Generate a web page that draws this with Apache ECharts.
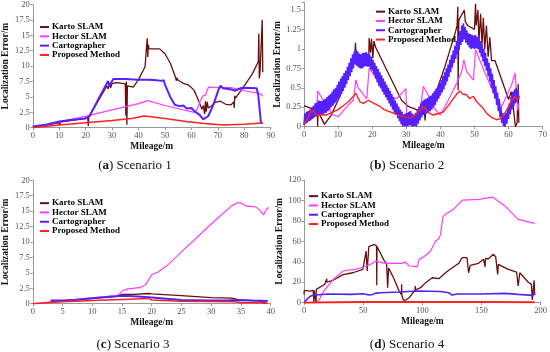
<!DOCTYPE html>
<html>
<head>
<meta charset="utf-8">
<script src="https://cdn.jsdelivr.net/npm/echarts@6/dist/echarts.min.js"></script>
<style>html,body{margin:0;padding:0;background:#fff;}#c{width:550px;height:352px;}</style>
</head>
<body>
<div id="c"></div>
<script>
// ---------- data ----------
const seriesNames = ['Karto SLAM', 'Hector SLAM', 'Cartographer', 'Proposed Method'];
const captions = [['a', ' Scenario 1'], ['b', ' Scenario 2'], ['c', ' Scenario 3'], ['d', ' Scenario 4']];
const xAxisName = 'Mileage/m';
const yAxisName = 'Localization Error/m';

// Scenario 1
const kartoA = [[0,0.1],[5,0.4],[10,0.8],[10.2,0.4],[10.4,0.9],[15,1.2],[20.8,1.6],[21,0.3],[21.2,1.8],[21.5,1.7],[24,3.8],[27,6],[28,6.8],[28.5,6.3],[29,7],[29.5,6.5],[30,7.2],[32,7.3],[35,7.1],[35.2,2],[35.4,7.5],[35.6,0.5],[35.8,6.8],[36,6.5],[38,6.6],[40,7.8],[42,9.5],[42.5,10],[43,13],[43.3,14.5],[43.5,11.5],[43.7,13.5],[44,12.8],[48,12.8],[50,12],[52,10.5],[54,8.2],[54.3,7.6],[54.5,8.1],[55,7.7],[57,7.2],[59,6.9],[61,6.1],[62.5,4.6],[64,3],[64.5,3.6],[65,2.2],[65.3,4.3],[65.6,2.6],[66,4.2],[66.4,3.2],[67.5,3.5],[69,4.1],[71,4.3],[73,3.8],[75,3.7],[76,4.2],[76.2,3.2],[76.4,5.2],[76.7,4.8],[80,6.8],[83,8.7],[85.3,10.7],[85.5,15.3],[85.7,8],[86,9.2],[86.5,9],[86.8,17.5],[87,9]];
const hectorA = [[0,0.05],[10,0.9],[21,1.95],[30,2.9],[40,3.9],[43.5,4.4],[50,3.6],[56,3],[61,2.5],[62,2.8],[63.5,4.5],[64.5,5.2],[65.3,5.3],[66.5,6.6],[70,6.5],[75,6.5],[80,6],[85,5.6],[86.5,5.4],[87,5.1]];
const cartoA = [[0,0.2],[5,0.5],[10,1],[15,1.3],[20,1.5],[21.5,1.9],[25,4.8],[28,7.2],[28.5,7.6],[29,6.7],[29.5,7.2],[30.5,7.9],[35,7.9],[40,7.8],[44,7.8],[47,7.7],[48.5,7.6],[49,7.3],[49.5,7.7],[50,7],[52,5],[53.8,3.7],[55.7,3.5],[57,3.6],[58.2,3.1],[60,3.2],[61.4,2.6],[62,2.9],[63.2,2.05],[64.5,1.35],[65.1,1.2],[66.4,1.9],[68.3,3.7],[70.2,6.1],[71,6.8],[72,6.4],[75.2,6.2],[76.5,6],[78.4,6.4],[79.6,6.5],[84.7,6.4],[85.3,5.3],[86,5],[86.3,0.8],[87,0.7]];
const propA = [[0,0],[10,0.45],[20,0.8],[30,1.15],[38,1.55],[42,1.9],[44,1.8],[50,1.5],[58,1],[65,0.7],[72,0.45],[80,0.55],[87,0.75]];

// Scenario 2
const kartoB = [[0,0.27],[3,0.22],[3.9,0.22],[4,0],[4.1,0.2],[6,0.03],[8,0.15],[10,0.34],[12,0.55],[14.8,0.85],[15.1,1.08],[15.3,0.85],[17,0.87],[19,0.88],[19.1,1.14],[19.5,0.95],[19.8,1.13],[20.2,0.88],[20.5,1.1],[21,1.02],[24.7,0.69],[28.6,0.34],[30.6,0.26],[33.5,0.21],[35.3,0.2],[35.5,0.08],[35.7,0.2],[38,0.35],[41.3,0.77],[44.3,1.2],[44.9,1.3],[45.1,1.54],[45.2,0.47],[45.4,1.37],[47,1.5],[47.3,1.35],[48,1.3],[50,1.25],[50.3,1.58],[50.5,1.3],[51,1.5],[51.3,1.1],[51.8,1.45],[52.2,1.05],[52.6,1.4],[53,1.0],[53.5,1.3],[54,0.9],[54.5,1.15],[55,0.85],[56,0.85],[58,0.6],[60,0.35],[60.8,0.45],[61.5,0.2],[62,0],[62.5,0.05],[62.8,0.55],[63,0.05]];
const hectorB = [[0,0.05],[1.5,0.15],[3,0.2],[3.7,0.15],[4,0.46],[5.5,0.35],[7.6,0.21],[8.5,0.15],[10.1,0.13],[13,0.28],[14.5,0.34],[15.2,0.6],[15.9,0.5],[18.4,0.36],[19.1,0.75],[20,0.7],[22.3,0.54],[24.7,0.39],[27.2,0.36],[29.9,0.49],[30.1,0.13],[32.1,0.15],[34,0.18],[35,0.52],[36.5,0.4],[38,0.25],[40,0.15],[42.3,0.34],[44.8,0.56],[46.2,0.7],[46.9,0.86],[47.7,0.71],[49.7,0.6],[50.1,0.6],[50.3,0.99],[53.1,0.69],[56,0.39],[58,0.26],[60.9,0.54],[61.9,0.69],[62.7,0.21],[63,0.3]];
const cartoB = [
[0,0.02],[0.25,0.17],[0.5,0.04],[0.75,0.19],
[1,0.05],[1.25,0.2],[1.5,0.07],[1.75,0.22],
[2,0.08],[2.25,0.25],[2.5,0.1],[2.75,0.27],
[3,0.12],[3.25,0.3],[3.5,0.13],[3.75,0.31],
[4,0.15],[4.25,0.34],[4.5,0.16],[4.75,0.33],
[5,0.16],[5.25,0.33],[5.5,0.15],[5.75,0.35],
[6,0.17],[6.25,0.36],[6.5,0.18],[6.75,0.38],
[7,0.2],[7.25,0.4],[7.5,0.22],[7.75,0.42],
[8,0.25],[8.25,0.45],[8.5,0.27],[8.75,0.48],
[9,0.3],[9.25,0.5],[9.5,0.32],[9.75,0.54],
[10,0.35],[10.25,0.58],[10.5,0.38],[10.75,0.62],
[11,0.42],[11.25,0.65],[11.5,0.46],[11.75,0.69],
[12,0.5],[12.25,0.72],[12.5,0.55],[12.75,0.77],
[13,0.6],[13.25,0.82],[13.5,0.65],[13.75,0.88],
[14,0.7],[14.25,0.93],[14.5,0.75],[14.75,0.97],
[15,0.8],[15.25,0.99],[15.5,0.78],[15.75,0.97],
[16,0.76],[16.25,0.94],[16.5,0.75],[16.75,0.93],
[17,0.75],[17.25,0.95],[17.5,0.76],[17.75,0.95],
[18,0.78],[18.25,0.96],[18.5,0.77],[18.75,0.94],
[19,0.77],[19.25,0.93],[19.5,0.74],[19.75,0.9],
[20,0.72],[20.25,0.86],[20.5,0.67],[20.75,0.82],
[21,0.62],[21.25,0.78],[21.5,0.57],[21.75,0.74],
[22,0.52],[22.25,0.7],[22.5,0.49],[22.75,0.66],
[23,0.45],[23.25,0.62],[23.5,0.41],[23.75,0.58],
[24,0.38],[24.25,0.54],[24.5,0.34],[24.75,0.5],
[25,0.3],[25.25,0.46],[25.5,0.26],[25.75,0.42],
[26,0.22],[26.25,0.38],[26.5,0.18],[26.75,0.34],
[27,0.15],[27.25,0.3],[27.5,0.11],[27.75,0.26],
[28,0.07],[28.25,0.22],[28.5,0.03],[28.75,0.19],
[29,0],[29.25,0.16],[29.5,0.01],[29.75,0.17],
[30,0],[30.25,0.18],[30.5,0.01],[30.75,0.19],
[31,0.02],[31.25,0.2],[31.5,0.01],[31.75,0.17],
[32,0],[32.25,0.14],[32.5,0.01],[32.75,0.18],
[33,0],[33.25,0.22],[33.5,0.04],[33.75,0.26],
[34,0.08],[34.25,0.3],[34.5,0.12],[34.75,0.33],
[35,0.15],[35.25,0.35],[35.5,0.16],[35.75,0.36],
[36,0.17],[36.25,0.37],[36.5,0.18],[36.75,0.39],
[37,0.2],[37.25,0.4],[37.5,0.22],[37.75,0.43],
[38,0.25],[38.25,0.46],[38.5,0.28],[38.75,0.49],
[39,0.32],[39.25,0.52],[39.5,0.36],[39.75,0.56],
[40,0.4],[40.25,0.6],[40.5,0.44],[40.75,0.65],
[41,0.48],[41.25,0.7],[41.5,0.53],[41.75,0.75],
[42,0.58],[42.25,0.8],[42.5,0.64],[42.75,0.86],
[43,0.7],[43.25,0.92],[43.5,0.76],[43.75,0.98],
[44,0.82],[44.25,1.04],[44.5,0.87],[44.75,1.1],
[45,0.93],[45.25,1.17],[45.5,0.99],[45.75,1.23],
[46,1.05],[46.25,1.3],[46.5,1.09],[46.75,1.33],
[47,1.12],[47.25,1.28],[47.5,1.08],[47.75,1.24],
[48,1.05],[48.25,1.2],[48.5,1.02],[48.75,1.19],
[49,1.0],[49.25,1.18],[49.5,1.01],[49.75,1.17],
[50,1.0],[50.25,1.18],[50.5,1.01],[50.75,1.16],
[51,1.0],[51.25,1.15],[51.5,0.95],[51.75,1.1],
[52,0.9],[52.25,1.05],[52.5,0.84],[52.75,1.0],
[53,0.78],[53.25,0.95],[53.5,0.72],[53.75,0.88],
[54,0.65],[54.25,0.82],[54.5,0.58],[54.75,0.75],
[55,0.5],[55.25,0.68],[55.5,0.43],[55.75,0.6],
[56,0.36],[56.25,0.52],[56.5,0.28],[56.75,0.44],
[57,0.2],[57.25,0.36],[57.5,0.12],[57.75,0.26],
[58,0.05],[58.25,0.18],[58.5,0.01],[58.75,0.15],
[59,0],[59.25,0.18],[59.5,0.04],[59.75,0.24],
[60,0.1],[60.25,0.3],[60.5,0.16],[60.75,0.38],
[61,0.22],[61.25,0.45],[61.5,0.26],[61.75,0.48],
[62,0.3],[62.25,0.5],[62.5,0.32],[62.75,0.47],
[63,0.35]];
const propB = [[0,0.02],[1,0.1],[2,0.2],[2.7,0.21],[3.5,0.14],[4.7,0.15],[6.5,0.15],[8.6,0.19],[10,0.22],[11.5,0.27],[13,0.32],[14.5,0.39],[15.2,0.43],[16.4,0.32],[17.5,0.3],[18.9,0.34],[20.5,0.3],[22.3,0.26],[23.5,0.22],[25.2,0.19],[26.5,0.17],[28.2,0.14],[29.5,0.13],[31.1,0.11],[32.5,0.15],[34,0.21],[35,0.26],[36.5,0.18],[37.9,0.15],[39.5,0.17],[40.9,0.19],[42.5,0.28],[43.8,0.36],[45,0.43],[45.7,0.46],[46.5,0.42],[47.7,0.41],[48.5,0.36],[49.7,0.39],[50.5,0.33],[51.6,0.28],[52.5,0.24],[53.6,0.17],[55,0.12],[56.5,0.09],[57.5,0.1],[58.5,0.15],[59.5,0.22],[60.4,0.3],[61.9,0.39],[62.5,0.35],[63.3,0.39]];

// Scenario 3
const kartoC = [[3,0.3],[8,0.7],[14,1.2],[15,1.5],[17,1.5],[19.5,1.65],[20,1.6],[25,1.3],[30,1.0],[33.5,0.9],[35,0.55],[38,0.45],[39.5,0.0]];
const hectorC = [[0,0],[5,0.45],[10,0.95],[14,1.3],[14.5,1.5],[15,2.05],[16,2.4],[18,2.6],[19,3.1],[19.5,3.9],[20,4.7],[21,5.1],[22.5,6.1],[25,8.4],[28,11.1],[31,13.8],[33.5,15.9],[34.5,16.4],[35,16.3],[36,15.8],[37.5,15.7],[38.3,15.0],[38.8,14.4],[39.3,15.3],[39.7,15.6]];
const cartoC = [[3,0.5],[5,0.5],[7,0.6],[10,0.9],[14,1.2],[15,1.3],[17,1.2],[20,1.0],[22,0.85],[25,0.6],[30,0.5],[33,0.55],[35,0.6],[37,0.5],[39.5,0.45]];
const propC = [[0,0],[5,0.3],[10,0.5],[15,0.7],[19.5,0.85],[20,0.6],[25,0.4],[30,0.35],[34,0.3],[35,0.15],[38,0.15],[39.5,0.05]];

// Scenario 4
const kartoD = [[0,8],[0.2,12],[5,11.4],[7.8,12],[8.4,0],[8.6,12.2],[10,13],[10.2,0],[10.4,13],[17.6,18],[19,19.5],[19.2,23.5],[19.4,20],[24.6,22],[33,27.4],[41.3,29.3],[49.7,32.6],[51,40.7],[52.5,50.5],[53.4,31],[54.8,54.8],[59.5,57],[61.3,55.5],[61.5,17],[61.7,55],[68,40.7],[69.8,38.5],[70.7,14.7],[71.5,34],[75,26],[80.4,11.4],[82.4,8],[82.5,18],[82.7,7],[84,2.6],[86,2.6],[89,4.9],[91.7,9.1],[93.9,12.4],[94,16.3],[94.2,12.6],[98.6,14.7],[102.8,19.6],[108.4,24.4],[114,23.5],[119.6,29.3],[125.2,34.2],[130.8,38.5],[133.6,44],[137.8,44],[139.1,29.3],[140.5,36.5],[147.5,38.5],[151.7,42.4],[153.1,35],[153.3,43],[155.9,43],[160.1,47.3],[162,45],[163.7,27.7],[164.3,37.5],[172.7,32.6],[179.7,30],[181,16.3],[182.4,29.3],[189.4,20.2],[192.2,17.9],[193,2.6],[194.5,21.8],[195,8]];
const hectorD = [[10.6,0],[12,0],[13,3],[16,10],[20,16],[25,23],[33,31],[45,33],[52.5,35.9],[58,38.5],[60.9,40.7],[65,39.5],[69.3,38.5],[83,38.5],[85.8,39.8],[88.9,35.9],[95.8,35.2],[97.2,42.4],[101.4,45],[107,50.5],[109.8,57],[111.2,60.3],[114,62.6],[115.4,66.8],[117.4,84.1],[119.6,86.4],[127,92],[133.9,100.4],[147.5,101],[159.3,103.3],[170,94.5],[181,81.5],[195,77.6]];
const cartoD = [[0,0],[3,4],[5,6],[8,7.5],[10,7.5],[20,8.5],[40,8.1],[50,8.8],[55,7.5],[58,8],[60,9.1],[65,9.8],[80,10.4],[97,11.4],[115,11],[122.4,9.8],[125,7.5],[130,8.5],[150,8.5],[170,9.1],[181,8.1],[193.6,7.2],[194.5,9.8],[195,7.5]];
const propD = [[0,0],[10,0.3],[50,0.6],[100,0.8],[150,0.8],[195,0.5]];

const xMax = [90, 70, 40, 200];
const xStep = [10, 10, 5, 50];
const yMax = [20, 1.6, 20, 120];
const yStep = [2.5, 0.25, 2.5, 20];
const panelData = [[kartoA, hectorA, cartoA, propA],[kartoB, hectorB, cartoB, propB],[kartoC, hectorC, cartoC, propC],[kartoD, hectorD, cartoD, propD]];

// ---------- styling / layout ----------
const colors = ['#6a0f0f', '#ff3cff', '#5522ff', '#ff2020'];
const widths = [[1.3,1.2,2,1.5],[1.3,1.2,1.6,1.4],[1.3,1.2,2,1.5],[1.3,1.2,1.6,2]];
const grids = [
  {left:29, top:4.3, width:241.7, height:123.4},
  {left:304, top:2.2, width:238.7, height:124.5},
  {left:29, top:180.3, width:241.7, height:123.4},
  {left:304, top:180, width:238.7, height:122.7}
];
const legendPos = [{left:40, top:22.4},{left:376, top:7},{left:40, top:198.5},{left:309, top:191.5}];
const capPos = [[135,166],[407,166],[133,345],[407,345]];
const serif = 'Liberation Serif';
const axisColor = '#9a9a9a';

const xAxes = [], yAxes = [], series = [], legends = [], graphics = [];
for (let i = 0; i < 4; i++) {
  xAxes.push({
    type:'value', gridIndex:i, min:0, max:xMax[i], interval:xStep[i],
    name:xAxisName, nameLocation:'middle', nameGap:12,
    nameTextStyle:{fontFamily:serif, fontWeight:'bold', fontSize:9.5, color:'#111'},
    axisLine:{onZero:false, lineStyle:{color:axisColor, width:1}},
    axisTick:{show:true, length:2.5, lineStyle:{color:axisColor}},
    axisLabel:{fontFamily:serif, fontSize:8.5, color:'#555', margin:4},
    splitLine:{show:false}
  });
  const st = yStep[i];
  yAxes.push({
    type:'value', gridIndex:i, min:0, max:yMax[i], interval:st,
    name:yAxisName, nameLocation:'middle', nameGap:16, nameRotate:90,
    nameTextStyle:{fontFamily:serif, fontWeight:'bold', fontSize:9.5, color:'#111'},
    axisLine:{show:true, lineStyle:{color:axisColor, width:1}},
    axisTick:{show:true, length:2.5, lineStyle:{color:axisColor}},
    axisLabel:{fontFamily:serif, fontSize:8.5, color:'#555', margin:3,
      formatter: v => (Math.abs(v/st - Math.round(v/st)) < 1e-6 ? String(+v.toFixed(3)) : '')},
    splitLine:{show:false}
  });
  for (let s = 0; s < 4; s++) {
    series.push({
      type:'line', name:seriesNames[s], xAxisIndex:i, yAxisIndex:i,
      data:panelData[i][s], showSymbol:false, symbol:'none', animation:false,
      lineStyle:{color:colors[s], width:widths[i][s], join:'bevel'}, itemStyle:{color:colors[s]}
    });
  }
  legends.push({
    orient:'vertical', left:legendPos[i].left, top:legendPos[i].top, padding:0,
    itemGap:0, itemWidth:9, itemHeight:2, icon:'rect', selectedMode:false,
    data:seriesNames,
    textStyle:{fontFamily:serif, fontWeight:'bold', fontSize:9, color:'#000', lineHeight:9.3, padding:[0,0,0,-2]}
  });
  graphics.push({
    type:'text', x:capPos[i][0], y:capPos[i][1],
    style:{
      text:'{p|(}{b|' + captions[i][0] + '}{p|)' + captions[i][1] + '}',
      textAlign:'center', textVerticalAlign:'middle',
      rich:{
        p:{fontFamily:serif, fontSize:13, fill:'#111'},
        b:{fontFamily:serif, fontSize:13, fontWeight:'bold', fill:'#111'}
      }
    }
  });
}

const chart = echarts.init(document.getElementById('c'), null, {renderer:'canvas'});
chart.setOption({
  animation:false,
  backgroundColor:'#fff',
  grid:grids,
  xAxis:xAxes,
  yAxis:yAxes,
  legend:legends,
  series:series,
  graphic:graphics
});
</script>
</body>
</html>
